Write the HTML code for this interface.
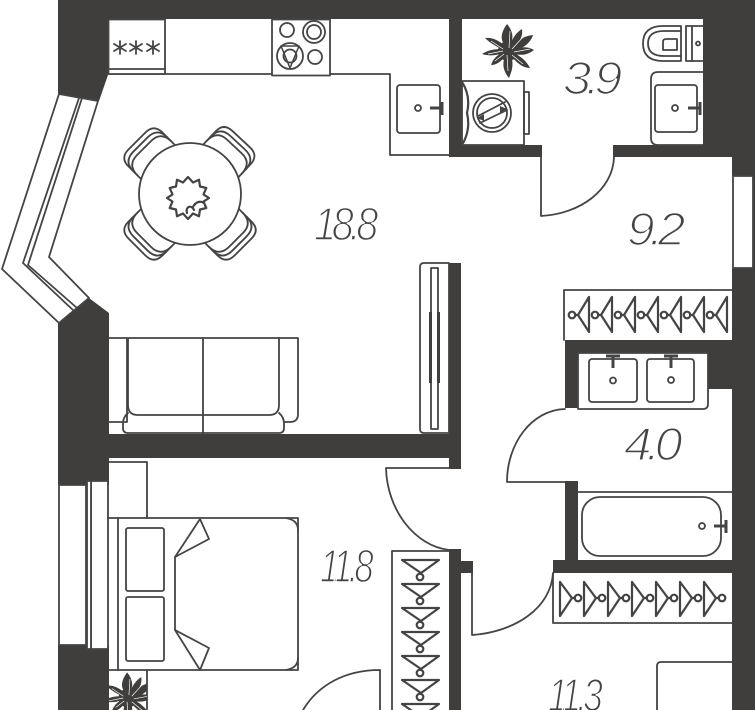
<!DOCTYPE html>
<html><head><meta charset="utf-8"><style>
html,body{margin:0;padding:0;background:#fff;width:755px;height:710px;overflow:hidden}
svg{display:block}
.l{fill:none;stroke:#444;stroke-width:1.8;stroke-linejoin:round;stroke-linecap:round}
.h{fill:none;stroke:#444;stroke-width:2.2;stroke-linejoin:round;stroke-linecap:round}
.w{fill:#fff;stroke:#444;stroke-width:1.8;stroke-linejoin:round}
.t{font-family:"Liberation Sans",sans-serif;font-style:italic;font-size:46px;letter-spacing:-5px;fill:#444;stroke:#fff;stroke-width:1.6px}
</style></head><body>
<svg width="755" height="710" viewBox="0 0 755 710" xmlns="http://www.w3.org/2000/svg">
<defs>
<g id="hv"><path class="h" d="M0 0V35L-11 18L0 0M-11 18H-14"/><circle class="h" cx="-17" cy="18" r="3.300"/></g>
<g id="hr"><path class="h" d="M0 0V34L12 16L0 0M12 16H15"/><circle class="h" cx="18" cy="16" r="3.300"/></g>
<g id="hd"><path class="h" d="M0 0H37L19 13L0 0M19 13L18 14"/><circle class="h" cx="18" cy="17" r="3.300"/></g>
<g id="pl"><g fill="#3f3e3d">
<circle r="10"/>
<path d="M-3 -6C-9 -12 -6 -20 -1 -27C5 -20 6 -12 2 -6Z"/>
<path d="M2 -6C5 -14 9 -19 14 -22C15 -15 12 -9 6 -4Z"/>
<path d="M5 -5C12 -13 18 -15 25 -16C23 -9 16 -3 8 -1Z"/>
<path d="M8 -2C16 -5 21 -4 26 -1C21 3 15 5 7 3Z"/>
<path d="M6 2C14 6 19 11 22 17C15 17 9 12 4 6Z"/>
<path d="M3 5C6 13 4 20 1 27C-5 20 -6 12 -3 6Z"/>
<path d="M-3 5C-7 11 -12 14 -17 14C-15 8 -11 4 -6 2Z"/>
<path d="M-6 2C-13 5 -20 5 -26 3C-20 -1 -13 -2 -7 -2Z"/>
<path d="M-6 -2C-13 -5 -19 -9 -23 -13C-15 -14 -9 -10 -4 -6Z"/>
</g><path d="M2 -20L1 -3M-1 4L0 20M16 -15L4 -2M22 -2L6 1M15 13L4 4M-20 3L-5 0M-17 -10L-5 -2M-13 10L-4 3" stroke="#fff" stroke-width=".7" fill="none"/></g>
<g id="ch"><path class="l" d="M-24 -42L-24 -63Q-24 -75 -12 -75L12 -75Q24 -75 24 -63L24 -42"/><path class="l" d="M-24 -56Q-24 -70 -10 -70L10 -70Q24 -70 24 -56"/><path class="l" d="M-24 -50Q-24 -65 -10 -65L10 -65Q24 -65 24 -50"/></g>
</defs>

<!-- walls -->
<g fill="#3f3e3d">
<path d="M58 0H755V710H732V268H733V176H732V157H613V145H703V19H462V145H542V157H449V19H108V75L99 101L58 94Z"/>
<path d="M58 323L89 298L109 313V434H449V263H461V469H449V458H109V485H58Z"/>
<rect x="58" y="645" width="51" height="65"/>
<path d="M565 340H732V389H708V353H578V408H565Z"/>
<path d="M565 481H578V560H732V573H553V560H565Z"/>
<path d="M449 549H461V561H473V573H461V710H449Z"/>
</g>

<!-- windows -->
<path class="w" d="M59 94L2 269L59 323L89 298L49 257L98 101Z"/>
<path class="l" stroke-width="1.200" d="M79 98L23 263L74 311M82 98L28 265L77 308"/>
<rect class="w" x="733" y="176" width="20" height="92"/>
<rect class="w" x="59" y="485" width="27" height="160"/>
<rect class="w" x="91" y="481" width="17" height="168"/>
<rect class="w" x="87" y="481" width="4" height="168"/>

<!-- kitchen -->
<path class="l" d="M108 74H390V155H449"/>
<path class="w" d="M108.500 19.500H165V74H108.500Z"/>
<path class="l" d="M108 69H165"/>
<g class="l" stroke-width="1.800">
<path d="M120 41V54M114 44L126 51M114 51L126 44"/>
<path d="M136 41V54M130 44L142 51M130 51L142 44"/>
<path d="M153 41V54M147 44L159 51M147 51L159 44"/>
</g>
<rect class="w" x="272" y="19.500" width="58" height="56"/>
<g class="l"><circle cx="287" cy="30" r="7"/><circle cx="314" cy="32" r="11"/><circle cx="314" cy="32" r="7"/><circle cx="290" cy="56" r="13"/><circle cx="290" cy="56" r="6.500"/><circle cx="315" cy="57" r="7"/><path d="M281 46L299 46L290 68Z" stroke-width="1.500"/></g>
<rect class="l" x="397" y="85" width="43" height="48" rx="3"/>
<circle class="l" cx="418" cy="108" r="3"/><path d="M430 108H442M442 102V115" stroke="#444" stroke-width="3" fill="none"/>

<!-- table -->
<g transform="translate(190 194)">
<use href="#ch" transform="rotate(-45)"/><use href="#ch" transform="rotate(43)"/><use href="#ch" transform="rotate(135)"/><use href="#ch" transform="rotate(-135)"/>
<circle class="w" r="51"/>
<g transform="translate(-2 4)"><polygon class="h" points="21,0 15.500,3.600 18.300,10 12,11.500 11,18.300 5,15.500 0,21 -5,15.500 -11,18.300 -12,11.500 -18.300,10 -15.500,3.600 -21,0 -15.500,-3.600 -18.300,-10 -12,-11.500 -11,-18.300 -5,-15.500 0,-21 5,-15.500 11,-18.300 12,-11.500 18.300,-10 15.500,-3.600"/><path class="h" d="M5 9C8 3 13 3 16 5M-1 15C-3 9 3 6 6 12"/></g>
</g>

<!-- sofa -->
<path class="l" d="M109 338H127V422H116Q109 422 109 422M279 338H298V414Q298 422 290 422H284"/>
<path class="l" d="M128 338V405Q128 415 138 415H269Q279 415 279 405V338M128 338H279"/>
<path class="l" d="M128 413Q123 417 123 424V428Q123 433 128 433H279Q284 433 284 428V424Q284 417 279 413"/>
<path class="l" d="M203 338V434"/>

<!-- tv -->
<path class="w" d="M449 263H424Q420 263 420 267V429Q420 433 424 433H449Z"/>
<rect class="l" x="431" y="268" width="7" height="161"/>
<rect x="429" y="312" width="3" height="71" fill="#3f3e3d"/><rect x="437" y="312" width="3" height="71" fill="#3f3e3d"/>

<!-- bathroom 3.9 -->
<use href="#pl" transform="translate(508 51)"/>
<rect class="w" x="462" y="81" width="62" height="64"/>
<rect class="l" x="524" y="92" width="5" height="42"/>
<path class="h" d="M462 82Q471 96 467 113Q471 130 462 145"/>
<circle class="l" cx="492" cy="113" r="19"/><circle class="l" cx="492" cy="113" r="15"/>
<path class="l" d="M478 116L505 102M480 123L507 110"/>
<path d="M477 118l7 -4l0 7zM507 109l-7 4l0 -7z" fill="#444"/>
<path class="l" d="M681 26H663Q643 26 643 43.500Q643 61 663 61H681Z"/>
<path class="l" d="M681 31H664Q648 31 648 43.500Q648 56 664 56H681"/>
<path class="l" d="M663 50V42Q663 39 666 39H677V50Z"/>
<rect class="l" x="686" y="26" width="6" height="35"/><path class="l" d="M692 26H703M692 61H703"/>
<circle class="l" cx="698" cy="43.500" r="2"/>
<path class="w" d="M703 72H658Q651 72 651 79V138Q651 145 658 145H703"/>
<rect class="l" x="655" y="85" width="42" height="47" rx="3"/>
<circle class="l" cx="675" cy="108" r="3"/><path d="M688 108H700M700 102V115" stroke="#444" stroke-width="3" fill="none"/>

<!-- doors -->
<path class="l" d="M541 157V216C580 214 613 190 614 157"/>
<path class="l" d="M565 409C532 410 507 443 507 482H565"/>
<path class="l" d="M449 468H386C387 510 415 546 449 550"/>
<path class="l" d="M472 573V635C515 632 551 608 553 573"/>
<path class="l" d="M380 710V670C345 670 318 685 303 710"/>

<!-- bedroom -->
<path class="l" d="M147 518V462H109M147 670V710"/>
<path class="l" d="M108 518H298V670H108"/>
<path class="l" d="M118 518V670M286 518Q298 520 298 530M298 658Q298 668 286 670"/>
<rect class="l" x="126" y="528" width="38" height="63" rx="2"/>
<rect class="l" x="126" y="597" width="38" height="64" rx="2"/>
<path class="l" d="M175 557V630"/>
<path class="l" d="M175 557L200 519L209 539Z"/>
<path class="l" d="M175 630L200 670L209 648Z"/>
<svg x="109" y="670" width="38" height="40" viewBox="109 670 38 40"><use href="#pl" transform="translate(128 698) scale(.95)"/></svg>

<!-- wardrobes -->
<path class="l" d="M449 551H392V710"/>
<use href="#hd" x="402" y="560"/><use href="#hd" x="402" y="584"/><use href="#hd" x="402" y="608"/><use href="#hd" x="402" y="632"/><use href="#hd" x="402" y="656"/><use href="#hd" x="402" y="680"/><use href="#hd" x="402" y="704"/>
<path class="l" d="M732 290H564V340"/>
<use href="#hv" x="589" y="297"/><use href="#hv" x="612" y="297"/><use href="#hv" x="635" y="297"/><use href="#hv" x="658" y="297"/><use href="#hv" x="681" y="297"/><use href="#hv" x="704" y="297"/><use href="#hv" x="727" y="297"/>
<path class="l" d="M553 573V623H732"/>
<use href="#hr" x="560" y="582"/><use href="#hr" x="584" y="582"/><use href="#hr" x="608" y="582"/><use href="#hr" x="632" y="582"/><use href="#hr" x="656" y="582"/><use href="#hr" x="680" y="582"/><use href="#hr" x="704" y="582"/>

<!-- bath 4.0 -->
<path class="w" d="M578 353H708V404Q708 409 703 409H578Z"/>
<rect class="l" x="589" y="359" width="48" height="43" rx="3"/>
<rect class="l" x="647" y="359" width="47" height="43" rx="3"/>
<circle class="l" cx="613" cy="380.500" r="3"/><circle class="l" cx="671" cy="380" r="3"/>
<path d="M606 356H620M613 356V368M664 356H678M671 356V368" stroke="#444" stroke-width="3" fill="none"/>
<path class="l" d="M578 492H732"/>
<rect class="l" x="582" y="497" width="139" height="59" rx="18"/>
<circle class="l" cx="702" cy="526" r="3"/><path d="M714 526H726M726 520V533" stroke="#444" stroke-width="3" fill="none"/>
<path class="l" d="M657 710V666Q657 662 661 662H732"/>

<!-- labels -->
<text class="t" x="314" y="240" textLength="60" lengthAdjust="spacingAndGlyphs">18.8</text>
<text class="t" x="563" y="94" textLength="54" lengthAdjust="spacingAndGlyphs">3.9</text>
<text class="t" x="627" y="245" textLength="53" lengthAdjust="spacingAndGlyphs">9.2</text>
<text class="t" x="624" y="460" textLength="53" lengthAdjust="spacingAndGlyphs">4.0</text>
<text class="t" x="320" y="582" textLength="50" lengthAdjust="spacingAndGlyphs">11.8</text>
<text class="t" x="548" y="711" textLength="51" lengthAdjust="spacingAndGlyphs">11.3</text>
</svg>
</body></html>
